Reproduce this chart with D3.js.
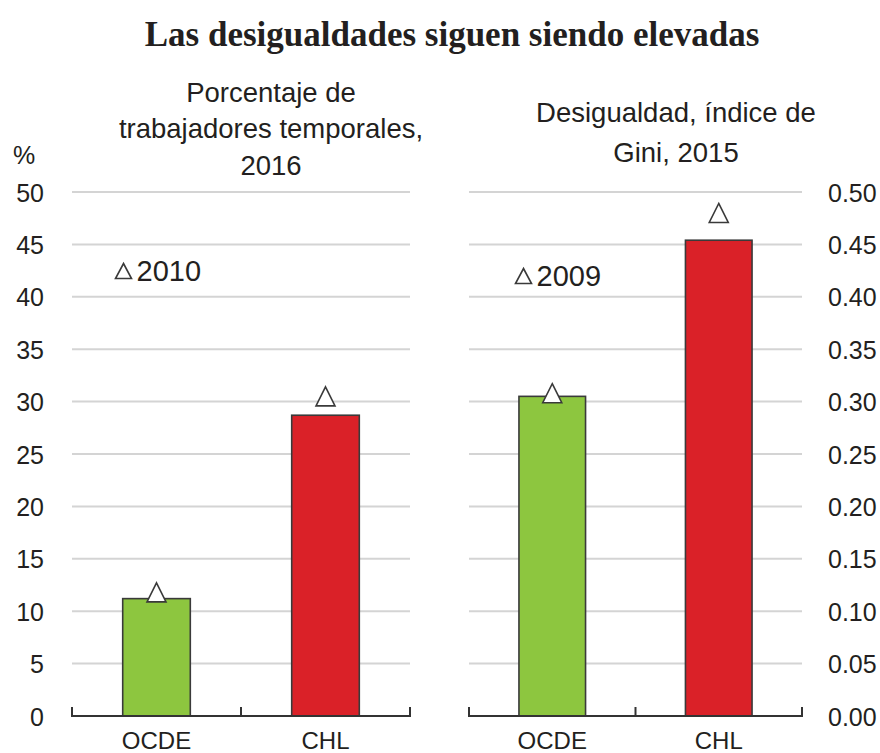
<!DOCTYPE html>
<html>
<head>
<meta charset="utf-8">
<script src="https://cdn.jsdelivr.net/npm/d3@7"></script>
<style>
  html, body { margin: 0; padding: 0; background: #fff; }
  svg { display: block; }
  text { font-family: "Liberation Sans", Arial, sans-serif; fill: #231f20; }
</style>
</head>
<body>
<svg id="chart" width="880" height="753"></svg>
<script>
// ---- Data ----
const categories = ["OCDE", "CHL"];
const tempWorkers2016 = [11.2, 28.7];
const tempWorkers2010 = [11.8, 30.5];
const gini2015 = [0.305, 0.454];
const gini2009 = [0.308, 0.480];
const leftTicks = [0, 5, 10, 15, 20, 25, 30, 35, 40, 45, 50];
const rightTicks = [0, 0.05, 0.10, 0.15, 0.20, 0.25, 0.30, 0.35, 0.40, 0.45, 0.50];
const barColors = ["#8dc63f", "#da2128"];

const svg = d3.select("#chart");

// Title
svg.append("text")
  .attr("x", 452).attr("y", 46)
  .attr("text-anchor", "middle")
  .style("font-family", "'Liberation Serif', 'Times New Roman', serif")
  .style("font-weight", "bold")
  .style("font-size", "35px")
  .text("Las desigualdades siguen siendo elevadas");

const yTop = 192, yBottom = 716;

function panel(opts) {
  const g = svg.append("g");
  const x = d3.scaleBand().domain(categories).range(opts.xRange)
    .paddingInner(0.6).paddingOuter(0.3);
  const y = d3.scaleLinear().domain(opts.domain).range([yBottom, yTop]);

  // gridlines
  g.selectAll("line.grid").data(opts.ticks.slice(1)).join("line")
    .attr("x1", opts.xRange[0]).attr("x2", opts.xRange[1])
    .attr("y1", d => y(d)).attr("y2", d => y(d))
    .attr("stroke", "#d4d4d4").attr("stroke-width", 2);

  // y axis labels (via d3 axis, no domain/ticks lines)
  const axis = (opts.side === "left" ? d3.axisLeft(y) : d3.axisRight(y))
    .tickValues(opts.ticks).tickFormat(opts.fmt).tickSize(0).tickPadding(0);
  const ag = g.append("g")
    .attr("transform", `translate(${opts.labelX},0)`)
    .call(axis);
  ag.select(".domain").remove();
  ag.selectAll("text")
    .style("font-family", "'Liberation Sans', Arial, sans-serif")
    .style("font-size", "25px")
    .attr("fill", "#231f20")
    .attr("dy", "0.36em");

  // bars
  g.selectAll("rect.bar").data(opts.values).join("rect")
    .attr("x", (d, i) => x(categories[i]))
    .attr("width", x.bandwidth())
    .attr("y", d => y(d))
    .attr("height", d => y(0) - y(d))
    .attr("fill", (d, i) => barColors[i])
    .attr("stroke", "#3a3a3a").attr("stroke-width", 1.6);

  // baseline axis with upward ticks at category boundaries
  const gap = (x.step() - x.bandwidth()) / 2;
  const bounds = [opts.xRange[0]].concat(categories.slice(1).map(c => x(c) - gap)).concat([opts.xRange[1]]);
  g.append("line")
    .attr("x1", opts.xRange[0]).attr("x2", opts.xRange[1])
    .attr("y1", y(0)).attr("y2", y(0))
    .attr("stroke", "#333").attr("stroke-width", 2);
  g.selectAll("line.xtick").data(bounds).join("line")
    .attr("x1", d => d).attr("x2", d => d)
    .attr("y1", y(0) + 1).attr("y2", y(0) - 9)
    .attr("stroke", "#333").attr("stroke-width", 2);

  // category labels
  g.selectAll("text.cat").data(categories).join("text")
    .attr("x", d => x(d) + x.bandwidth() / 2)
    .attr("y", 749)
    .attr("text-anchor", "middle")
    .style("font-size", "24px")
    .text(d => d);

  // triangle markers
  const tri = (w, h) => `M0,${-h/2}L${w/2},${h/2}L${-w/2},${h/2}Z`;
  g.selectAll("path.mark").data(opts.markers).join("path")
    .attr("d", tri(19, 19))
    .attr("transform", (d, i) => `translate(${x(categories[i]) + x.bandwidth() / 2},${y(d)})`)
    .attr("fill", "#fff").attr("stroke", "#3a3a3a").attr("stroke-width", 1.6)
    .attr("stroke-linejoin", "miter");

  // legend
  g.append("path")
    .attr("d", tri(16, 15))
    .attr("transform", `translate(${opts.legend[0]},${opts.legend[1]})`)
    .attr("fill", "#fff").attr("stroke", "#3a3a3a").attr("stroke-width", 1.6);
  g.append("text")
    .attr("x", opts.legend[0] + 13).attr("y", opts.legend[1] + 10)
    .style("font-size", "29px")
    .text(opts.legendLabel);

  // subtitle
  const st = g.append("text")
    .attr("text-anchor", "middle")
    .style("font-size", "27.5px");
  opts.subtitle.forEach((line, i) => {
    st.append("tspan").attr("x", opts.subX).attr("y", opts.subY[i]).text(line);
  });
}

panel({
  side: "left",
  xRange: [72, 410],
  domain: [0, 50],
  ticks: leftTicks,
  fmt: d3.format("d"),
  labelX: 44,
  values: tempWorkers2016,
  markers: tempWorkers2010,
  legend: [123.5, 271],
  legendLabel: "2010",
  subtitle: ["Porcentaje de", "trabajadores temporales,", "2016"],
  subX: 271,
  subY: [102, 138, 175]
});

panel({
  side: "right",
  xRange: [469, 802],
  domain: [0, 0.5],
  ticks: rightTicks,
  fmt: d3.format(".2f"),
  labelX: 828,
  values: gini2015,
  markers: gini2009,
  legend: [523.5, 276],
  legendLabel: "2009",
  subtitle: ["Desigualdad, índice de", "Gini, 2015"],
  subX: 676,
  subY: [122, 162]
});

// % unit label
svg.append("text")
  .attr("x", 13).attr("y", 164)
  .style("font-size", "25px")
  .text("%");
</script>
</body>
</html>
